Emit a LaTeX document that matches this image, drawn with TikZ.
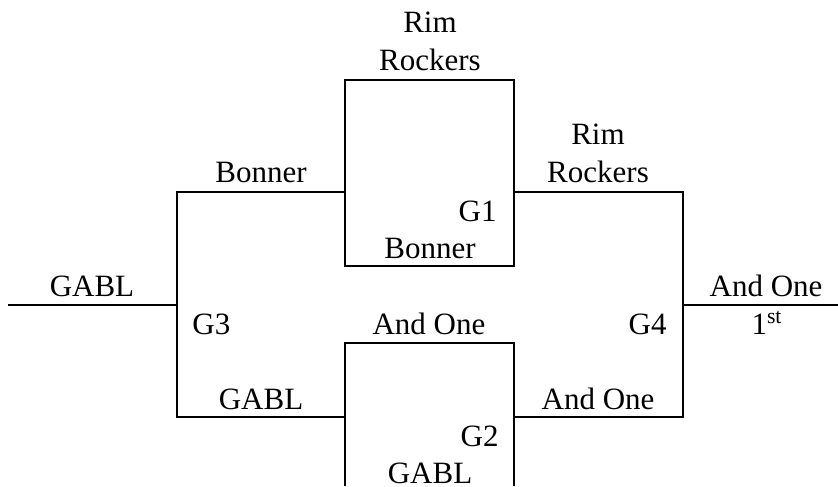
\documentclass[tikz,border=0pt]{standalone}
\usepackage{fontspec}
\setmainfont{Liberation Serif}
\tikzset{
  team/.style={anchor=base, inner sep=0pt, align=center, font=\fontsize{15.5}{19}\selectfont},
  game/.style={inner sep=0pt, font=\fontsize{15.5}{19}\selectfont},
  bracket/.style={line width=1pt}
}

\begin{document}
\begin{tikzpicture}[x=0.5pt, y=-0.5pt]
  \useasboundingbox (0,0) rectangle (838,486);

  % corners of the bracket
  \coordinate (start) at (8,305);
  \coordinate (g3top) at (177,192);
  \coordinate (g3mid) at (177,305);
  \coordinate (g3bot) at (177,417);
  \coordinate (g1tl) at (345,80);
  \coordinate (g1in) at (345,192);
  \coordinate (g1br) at (514,266);
  \coordinate (g1out) at (514,192);
  \coordinate (g2bl) at (345,486);
  \coordinate (g2tl) at (345,343);
  \coordinate (g2in) at (345,417);
  \coordinate (g2tr) at (514,343);
  \coordinate (g2br) at (514,486);
  \coordinate (g2out) at (514,417);
  \coordinate (g4top) at (683,192);
  \coordinate (g4mid) at (683,305);
  \coordinate (g4bot) at (683,417);
  \coordinate (finish) at (838,305);

  \draw[bracket] (g1tl) rectangle (g1br);
  \draw[bracket] (g2bl) -- (g2tl) -- (g2tr) -- (g2br);
  \draw[bracket] (g1in) -- (g3top) -- (g3bot) -- (g2in);
  \draw[bracket] (start) -- (g3mid);
  \draw[bracket] (g1out) -- (g4top) -- (g4bot) -- (g2out);
  \draw[bracket] (g4mid) -- (finish);

  % teams
  \node[team] (rimtop) at (430,71) {Rim\\Rockers};
  \node[team] (bonnertop) at (261,183) {Bonner};
  \node[team] (bonnerbot) at (430,258) {Bonner};
  \node[team] (rimright) at (598,183) {Rim\\Rockers};
  \node[team] (gablleft) at (92,296) {GABL};
  \node[team] (andonetop) at (429,334) {And One};
  \node[team] (gablmid) at (261,409) {GABL};
  \node[team] (gablbot) at (430,483) {GABL};
  \node[team] (andonebot) at (598,409) {And One};
  \node[team] (andonewin) at (766,296) {And One};
  \node[team] (first) at (767,334) {1\textsuperscript{st}};

  % games
  \node[game, anchor=base east] (g1) at (497,221) {G1};
  \node[game, anchor=base east] (g2) at (499,446) {G2};
  \node[game, anchor=base west] (g3) at (192,334) {G3};
  \node[game, anchor=base east] (g4) at (667,334) {G4};
\end{tikzpicture}
\end{document}
